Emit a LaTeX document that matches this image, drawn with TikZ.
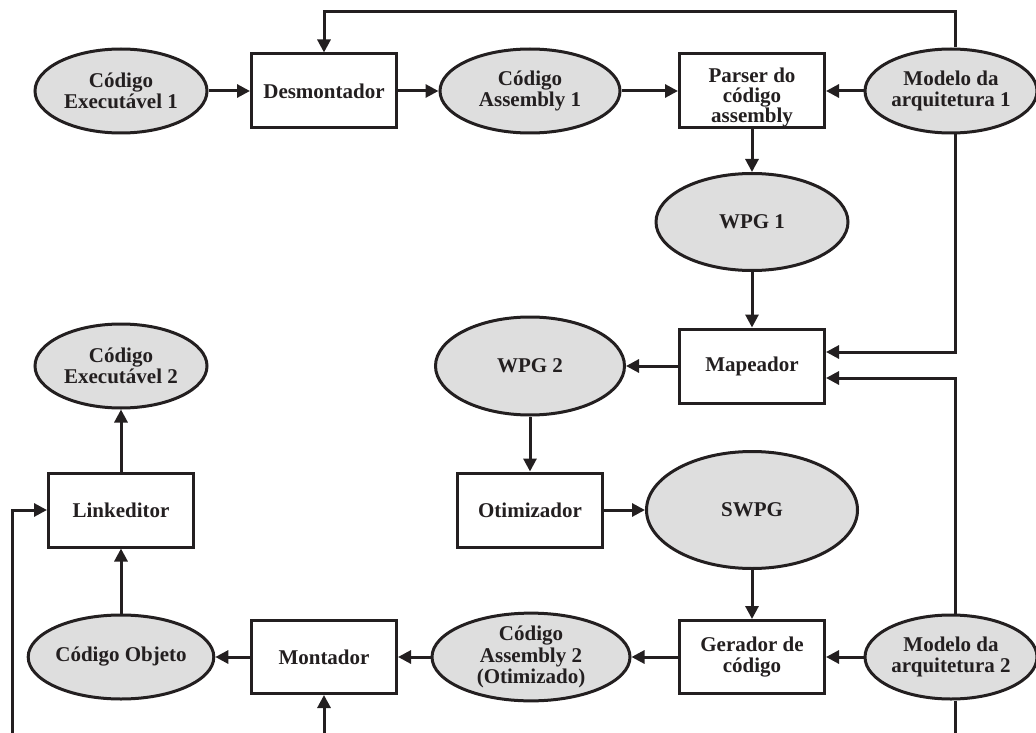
\documentclass[tikz,border=0pt]{standalone}
\usepackage{fontspec}
\setmainfont{Liberation Serif}
\usetikzlibrary{shapes.geometric,arrows.meta}
\definecolor{ink}{HTML}{231F20}
\definecolor{datafill}{HTML}{DEDEDE}
\begin{document}
\begin{tikzpicture}[x=1pt,y=-1pt,
  every node/.style={font=\fontsize{21}{21.5}\selectfont\bfseries, text=ink, align=center},
  proc/.style={draw=ink, line width=3pt, fill=white, rectangle,
    minimum width=145pt, minimum height=74pt, inner sep=0pt},
  data/.style={draw=ink, line width=3pt, fill=datafill, ellipse, inner sep=0pt},
  flow/.style={draw=ink, line width=3pt, -{Triangle[length=13pt,width=13pt]}},
  wire/.style={draw=ink, line width=3pt}]
\useasboundingbox (0,0) rectangle (1036,733);

% top row
\node[data, minimum width=172pt, minimum height=84pt] (exe1) at (121,91) {Código\\Executável 1};
\node[proc] (desm) at (324,91) {Desmontador};
\node[data, minimum width=180pt, minimum height=84pt] (asm1) at (530,91) {Código\\Assembly 1};
\node[proc, font=\fontsize{21}{20}\selectfont\bfseries] (pars) at (752,91)
  {\rule{0pt}{27pt}Parser do\\código\\assembly};
\node[data, minimum width=172pt, minimum height=84pt] (mod1) at (951,91) {Modelo da\\arquitetura 1};

% middle column
\node[data, minimum width=192pt, minimum height=97pt] (wpg1) at (752,222) {WPG 1};
\node[proc] (mape) at (752,366) {Mapeador};
\node[data, minimum width=189pt, minimum height=98pt] (wpg2) at (530,366) {WPG 2};
\node[data, minimum width=172pt, minimum height=84pt] (exe2) at (121,366) {Código\\Executável 2};
\node[proc] (otim) at (530,510) {Otimizador};
\node[data, minimum width=211pt, minimum height=117pt] (swpg) at (752,510) {SWPG};
\node[proc] (link) at (121,510) {Linkeditor};

% bottom row
\node[proc, minimum height=73pt] (gera) at (752,657) {Gerador de\\código};
\node[data, minimum width=172pt, minimum height=84pt] (mod2) at (951,657) {Modelo da\\arquitetura 2};
\node[data, minimum width=198pt, minimum height=84pt] (asm2) at (531,657) {Código\\Assembly 2\\(Otimizado)};
\node[proc, minimum height=73pt] (mont) at (324,657) {Montador};
\node[data, minimum width=175pt, minimum height=84pt] (obj) at (121,657) {Código Objeto};

% open ends at the page border
\coordinate (topy) at (0,12);
\coordinate (inL) at (12,733);
\coordinate (inM) at (324,733);
\coordinate (outR) at (955,733);

% connectors
\draw[flow] (exe1) -- (desm);
\draw[flow] (desm) -- (asm1);
\draw[flow] (asm1) -- (pars);
\draw[flow] (mod1) -- (pars);
\draw[flow] ([xshift=4pt]mod1.north) -- ([xshift=4pt]mod1.north |- topy) -| (desm.north);
\draw[flow] (pars) -- (wpg1);
\draw[flow] (wpg1) -- (mape);
\draw[flow] ([xshift=4pt]mod1.south) |- ([yshift=14pt]mape.east);
\draw[flow] ([xshift=4pt]mod2.north) |- ([yshift=-12pt]mape.east);
\draw[wire] ([xshift=4pt]mod2.south) -- ([xshift=4pt]mod2.south |- outR);
\draw[flow] (mape) -- (wpg2);
\draw[flow] (wpg2) -- (otim);
\draw[flow] (otim) -- (swpg);
\draw[flow] (swpg) -- (gera);
\draw[flow] (mod2) -- (gera);
\draw[flow] (gera) -- (asm2);
\draw[flow] (asm2) -- (mont);
\draw[flow] (mont) -- (obj);
\draw[flow] (inM) -- (mont);
\draw[flow] (obj) -- (link);
\draw[flow] (link) -- (exe2);
\draw[flow] (inL) |- (link.west);
\end{tikzpicture}
\end{document}
